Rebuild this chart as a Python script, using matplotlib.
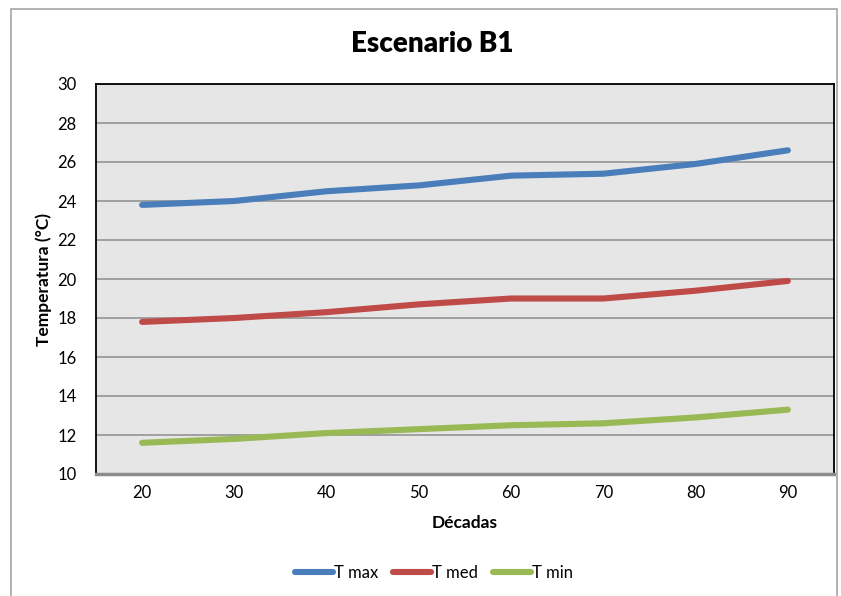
import matplotlib.pyplot as plt
from matplotlib.patches import Rectangle

plt.rcParams['font.family'] = ['Lato', 'DejaVu Sans']

decadas = ['20', '30', '40', '50', '60', '70', '80', '90']
t_max = [23.8, 24.0, 24.5, 24.8, 25.3, 25.4, 25.9, 26.6]
t_med = [17.8, 18.0, 18.3, 18.7, 19.0, 19.0, 19.4, 19.9]
t_min = [11.6, 11.8, 12.1, 12.3, 12.5, 12.6, 12.9, 13.3]

fig = plt.figure(figsize=(8.41, 5.96), dpi=100)
fig.patches.append(Rectangle((11 / 841, -0.01), 826 / 841, 1 - 9 / 596 + 0.01,
                             transform=fig.transFigure, fill=False,
                             edgecolor='#a6a6a6', linewidth=1.2))

ax = fig.add_axes([96 / 841, 1 - 474 / 596, 738 / 841, 390 / 596])
ax.set_facecolor('#e6e6e6')

x = range(len(decadas))
ax.plot(x, t_max, color='#4a7ebb', lw=4.4, solid_capstyle='round', label='T max')
ax.plot(x, t_med, color='#be4b48', lw=4.4, solid_capstyle='round', label='T med')
ax.plot(x, t_min, color='#98b954', lw=4.4, solid_capstyle='round', label='T min')

ax.set_xlim(-0.5, len(decadas) - 0.5)
ax.set_ylim(10, 30)
ax.set_yticks(range(10, 31, 2))
ax.set_xticks(list(x))
ax.set_xticklabels(decadas)
ax.tick_params(length=0, labelsize=12, pad=8)
ax.tick_params(axis='y', pad=14)
ax.grid(axis='y', color='#8c8c8c', lw=1.1)
ax.set_axisbelow(True)
for s in ax.spines.values():
    s.set_color('black')
    s.set_linewidth(1.3)
ax.spines['bottom'].set_color('#8c8c8c')
ax.spines['bottom'].set_linewidth(2.5)

fig.text(432 / 841, 1 - 44 / 596, 'Escenario B1', fontsize=20, fontweight='heavy',
         ha='center', va='center')
ax.set_xlabel('Décadas', fontsize=12.5, fontweight='bold', labelpad=10)
ax.set_ylabel('Temperatura (°C)', fontsize=12.5, fontweight='bold')
ax.yaxis.set_label_coords(-44 / 738, 0.5)

fig.legend(loc='center', bbox_to_anchor=(434 / 841, 1 - 573 / 596), ncol=3,
           frameon=False, fontsize=12, handlelength=2.3, handletextpad=0.05,
           columnspacing=0.9)

fig.savefig('out.png', dpi=100)
